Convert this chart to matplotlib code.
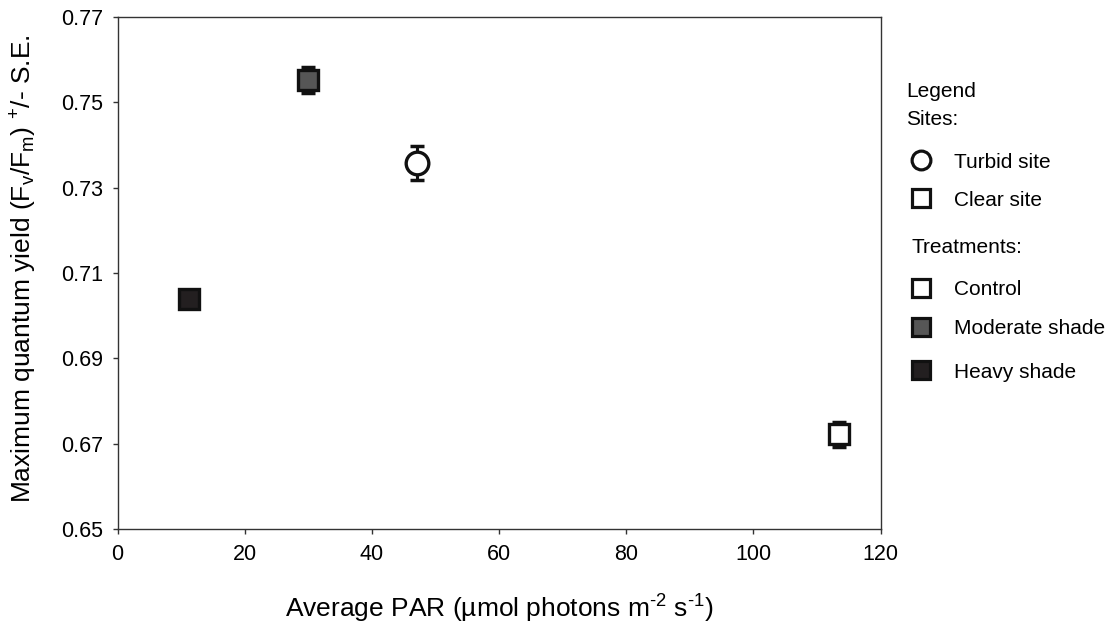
import numpy as np
import matplotlib.pyplot as plt
from matplotlib.lines import Line2D

plt.rcParams['font.family'] = ['Liberation Sans', 'DejaVu Sans']
plt.rcParams['mathtext.fontset'] = 'custom'
plt.rcParams['mathtext.rm'] = 'Liberation Sans'
plt.rcParams['mathtext.it'] = 'Liberation Sans'

# data
labels = ['Heavy shade', 'Moderate shade', 'Turbid site', 'Clear site (control)']
par = [11.3, 29.9, 47.1, 113.4]
fvfm = [0.7040, 0.7552, 0.7358, 0.6722]
se = [0.0010, 0.0031, 0.0040, 0.0029]
markers = ['s', 's', 'o', 's']
faces = ['#231f20', '#565656', 'white', 'white']

W, H = 1119, 625
fig = plt.figure(figsize=(W / 100, H / 100), dpi=100)
ax = fig.add_axes([117.5 / W, 1 - 529 / H, 763 / W, 512 / H])

for x, y, e, m, fc in zip(par, fvfm, se, markers, faces):
    ax.errorbar(x, y, yerr=e, fmt='none', ecolor='#111111', elinewidth=2.2,
                capsize=5, capthick=2.5, zorder=2)
    ms = 16.3 if m == 'o' else 15
    ax.plot(x, y, marker=m, markersize=ms, markerfacecolor=fc,
            markeredgecolor='#111111', markeredgewidth=2.4, linestyle='none',
            zorder=3)

ax.set_xlim(0, 120)
ax.set_ylim(0.65, 0.77)
ax.set_xticks(np.arange(0, 121, 20))
ax.set_yticks([0.65, 0.67, 0.69, 0.71, 0.73, 0.75, 0.77])
ax.set_yticklabels(['0.65', '0.67', '0.69', '0.71', '0.73', '0.75', '0.77'])
ax.tick_params(direction='out', length=3.5, width=1, labelsize=15.5,
               color='#333333', pad=7)
for s in ax.spines.values():
    s.set_linewidth(1)
    s.set_color('#333333')

def fx(px):
    return px / W
def fy(py):
    return 1 - py / H

hy = '\u2010'
fig.text(fx(499.5), fy(618), 'Average PAR (µmol photons m$^{' + hy + '2}$ s$^{' + hy + '1}$)',
         fontsize=19, ha='center', va='baseline')
fig.text(fx(32), fy(268.5),
         'Maximum quantum yield (F$_\\mathregular{v}$/F$_\\mathregular{m}$) $^{+}$/- S.E.',
         fontsize=19, ha='center', va='baseline', rotation=90, rotation_mode='anchor')

# legend drawn by hand
fig.text(fx(906.5), fy(96.7), 'Legend', fontsize=15, va='baseline')
fig.text(fx(906.5), fy(125), 'Sites:', fontsize=15, va='baseline')
fig.text(fx(912), fy(253), 'Treatments:', fontsize=15, va='baseline')

leg_items = [
    (160, 168, 'o', 'white', 'Turbid site'),
    (198, 206.5, 's', 'white', 'Clear site'),
    (288, 295, 's', 'white', 'Control'),
    (327, 333.5, 's', '#565656', 'Moderate shade'),
    (370, 378, 's', '#231f20', 'Heavy shade'),
]
for py, pb, m, fc, txt in leg_items:
    fig.add_artist(Line2D([fx(921)], [fy(py)], marker=m,
                          markersize=13.5 if m == 'o' else 13,
                          markerfacecolor=fc, markeredgecolor='#111111',
                          markeredgewidth=2.3, linestyle='none',
                          transform=fig.transFigure))
    fig.text(fx(954), fy(pb), txt, fontsize=15, va='baseline')

fig.savefig('out.png', dpi=100)
